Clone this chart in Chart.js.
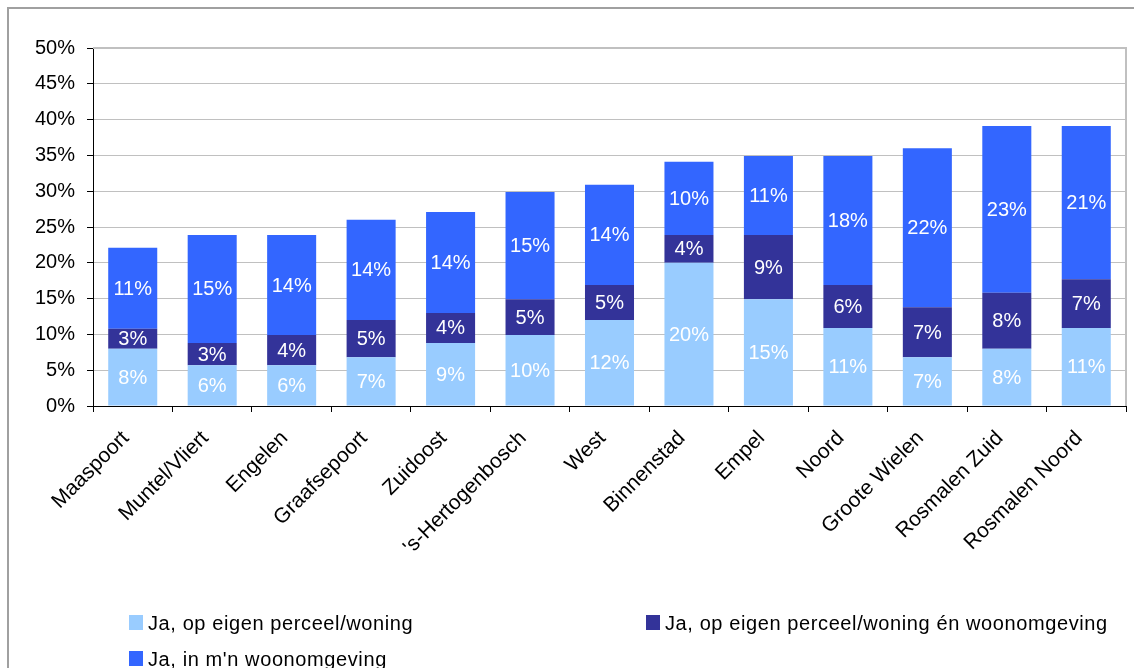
<!DOCTYPE html>
<html>
<head>
<meta charset="utf-8">
<script src="https://cdn.jsdelivr.net/npm/chart.js@4.4.1/dist/chart.umd.min.js"></script>
<style>
  body { margin: 0; background: #fff; font-family: "Liberation Sans", Arial, sans-serif; }
  #wrap { position: relative; width: 1134px; height: 668px; overflow: hidden; }
  #frame { position: absolute; left: 7px; top: 7px; width: 1140px; height: 680px; border: 2px solid #a0a0a0; box-sizing: border-box; }
  #chart { position: absolute; left: 0; top: 0; }
  .legend-item { position: absolute; font-size: 20px; color: #000; line-height: 20px; white-space: nowrap; letter-spacing: 0.6px; }
  .legend-item span.box { position: absolute; left: -19px; top: 2px; width: 14px; height: 15px; }
</style>
</head>
<body>
<div id="wrap">
  <div id="frame"></div>
  <canvas id="chart" width="1134" height="668"></canvas>
  <div id="legend"></div>
</div>
<script>
const categories = ['Maaspoort', 'Muntel/Vliert', 'Engelen', 'Graafsepoort', 'Zuidoost', "'s-Hertogenbosch",
  'West', 'Binnenstad', 'Empel', 'Noord', 'Groote Wielen', 'Rosmalen Zuid', 'Rosmalen Noord'];

const seriesLabels = ['Ja, op eigen perceel/woning', 'Ja, op eigen perceel/woning én woonomgeving', "Ja, in m'n woonomgeving"];

const eigenPerceel = [8.0, 5.7, 5.7, 6.8, 8.8, 9.9, 12.0, 20.0, 14.9, 10.9, 6.8, 8.0, 10.9];
const perceelEnOmgeving = [2.8, 3.1, 4.2, 5.2, 4.2, 5.0, 4.9, 3.9, 9.0, 6.0, 7.0, 7.8, 6.8];
const woonomgeving = [11.3, 15.1, 14.0, 14.0, 14.1, 15.0, 14.0, 10.2, 11.0, 18.0, 22.2, 23.3, 21.4];

const yTicks = [0, 5, 10, 15, 20, 25, 30, 35, 40, 45, 50];

const colors = ['#99ccff', '#333399', '#3366ff'];
const FONT = '"Liberation Sans", Arial, sans-serif';

// white percentage labels in the middle of each segment
const segmentLabels = {
  id: 'segmentLabels',
  afterDatasetsDraw(chart) {
    const ctx = chart.ctx;
    ctx.save();
    ctx.font = '20px ' + FONT;
    ctx.fillStyle = '#fff';
    ctx.textAlign = 'center';
    ctx.textBaseline = 'middle';
    chart.data.datasets.forEach((ds, i) => {
      chart.getDatasetMeta(i).data.forEach((bar, j) => {
        const p = bar.getProps(['x', 'y', 'base'], true);
        ctx.fillText(Math.round(ds.data[j]) + '%', p.x, (p.y + p.base) / 2 + 1);
      });
    });
    ctx.restore();
  }
};

// grey top/right edge of the plot area
const plotEdge = {
  id: 'plotEdge',
  beforeDatasetsDraw(chart) {
    const { ctx, chartArea: a } = chart;
    ctx.save();
    ctx.strokeStyle = '#c0c0c0';
    ctx.lineWidth = 2;
    ctx.beginPath();
    ctx.moveTo(a.left, a.top);
    ctx.lineTo(a.right, a.top);
    ctx.lineTo(a.right, a.bottom);
    ctx.stroke();
    ctx.restore();
  }
};

const ProblemChart = {
  initialize: function() {
    const datasets = [eigenPerceel, perceelEnOmgeving, woonomgeving].map((values, i) => ({
      label: seriesLabels[i],
      data: values,
      backgroundColor: colors[i],
      borderWidth: 0,
      categoryPercentage: 1,
      barPercentage: 0.617
    }));

    this.chart = new Chart(document.getElementById('chart'), {
      type: 'bar',
      data: { labels: categories, datasets: datasets },
      options: {
        responsive: false,
        animation: false,
        layout: { padding: { top: 48, right: 8, left: 0, bottom: 0 } },
        plugins: { legend: { display: false }, tooltip: { enabled: false } },
        scales: {
          x: {
            stacked: true,
            offset: true,
            grid: { offset: true, drawOnChartArea: false, color: '#000', tickLength: 6 },
            border: { color: '#000', width: 1 },
            ticks: {
              autoSkip: false,
              maxRotation: 45,
              minRotation: 45,
              padding: 14,
              labelOffset: -7,
              color: '#000',
              font: { family: FONT, size: 21 }
            },
            afterFit: scale => { scale.height = 262; }
          },
          y: {
            stacked: true,
            min: 0,
            max: 50,
            afterBuildTicks: scale => { scale.ticks = yTicks.map(v => ({ value: v })); },
            grid: {
              color: c => (c.tick && c.tick.value === 0 ? '#000' : '#c0c0c0'),
              tickColor: '#000',
              tickLength: 6
            },
            border: { color: '#000', width: 1 },
            ticks: {
              padding: 12,
              color: '#000',
              font: { family: FONT, size: 20 },
              callback: v => v + '%'
            },
            afterFit: scale => { scale.width = 93; }
          }
        }
      },
      plugins: [segmentLabels, plotEdge]
    });

    this.buildLegend();
  },

  buildLegend: function() {
    const spots = [[148, 613], [665, 613], [148, 649]];
    const legend = document.getElementById('legend');
    this.chart.data.datasets.forEach((ds, i) => {
      const item = document.createElement('div');
      item.className = 'legend-item';
      item.style.left = spots[i][0] + 'px';
      item.style.top = spots[i][1] + 'px';
      const box = document.createElement('span');
      box.className = 'box';
      box.style.background = ds.backgroundColor;
      item.appendChild(box);
      item.appendChild(document.createTextNode(ds.label));
      legend.appendChild(item);
    });
  }
};

ProblemChart.initialize();
</script>
</body>
</html>
